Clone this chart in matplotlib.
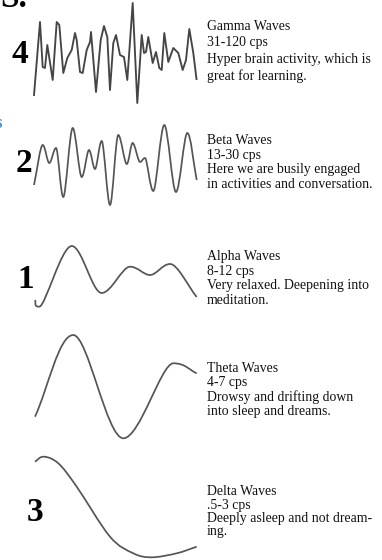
import numpy as np
import matplotlib.pyplot as plt
from matplotlib.path import Path
from matplotlib.patches import PathPatch

# ================================
# WAVE DATA (pixel coords)
# ================================
gamma_x = [34, 40, 42.7, 45, 47.3, 52.7, 56.7, 59.3, 63.3, 67.3, 71.7, 75, 76.7, 80, 82.7,
           86.7, 90, 91, 96, 100.7, 104, 107.3, 110, 113.3, 116, 120, 124, 127.3, 132.7,
           137.3, 141.7, 144, 146, 148.3, 152.7, 156, 159.3, 161.7, 164.3, 168.3, 173.3,
           178.3, 182.7, 186, 189.3, 193.3, 196.5]
gamma_y = [95, 22, 67, 68, 45, 80, 22, 25, 73, 58, 50, 33, 40, 72, 73,
           50, 42, 32, 92, 40, 26, 37, 90, 43, 35, 55, 57, 80, 3,
           103, 35, 53, 52, 37, 63, 52, 68, 70, 33, 62, 48,
           53, 70, 60, 29, 53, 79]

beta_x = [34, 42.7, 49.3, 56, 63.3, 72.7, 81.7, 89, 95, 101.7, 110, 118.3, 126.7,
          132.7, 140, 145, 153.3, 164.3, 176, 187.3, 196.7]
beta_y = [185, 145, 163, 148, 197, 128, 177, 150, 169, 141, 205, 135, 164,
          143, 162, 158, 191, 125, 192, 133, 180]

alpha_x = [35, 39.3, 71.7, 101.7, 130, 150, 170, 196.7]
alpha_y = [300, 306.7, 246, 293, 266.7, 275, 264, 297]

theta_x = [35, 73.3, 123.3, 173.3, 196.7]
theta_y = [416.7, 335, 438.3, 363.3, 373.3]

delta_x = [35, 43.3, 58.3, 76.7, 110, 133.3, 151.7, 176.7, 196.7]
delta_y = [461.7, 456.7, 463.3, 486.7, 536.7, 553.3, 557.3, 553.3, 546.7]

labels = ["Gamma Waves\n31-120 cps\nHyper brain activity, which is\ngreat for learning.",
          "Beta Waves\n13-30 cps\nHere we are busily engaged\nin activities and conversation.",
          "Alpha Waves\n8-12 cps\nVery relaxed. Deepening into\nmeditation.",
          "Theta Waves\n4-7 cps\nDrowsy and drifting down\ninto sleep and dreams.",
          "Delta Waves\n.5-3 cps\nDeeply asleep and not dream-\ning."]
numbers = ["4", "2", "1", "", "3"]


def smooth_path(xs, ys):
    # bezier through the points, flat tangent at peaks/troughs
    p = np.column_stack([xs, ys]).astype(float)
    n = len(p)
    t = np.zeros_like(p)
    for i in range(n):
        a = p[max(i - 1, 0)]
        b = p[min(i + 1, n - 1)]
        t[i] = (b - a) / (2 if 0 < i < n - 1 else 1)
        if 0 < i < n - 1 and (p[i, 1] - a[1]) * (p[i, 1] - b[1]) > 0:
            t[i, 1] = 0
    verts = [p[0]]
    codes = [Path.MOVETO]
    for i in range(n - 1):
        verts += [p[i] + t[i] / 3, p[i + 1] - t[i + 1] / 3, p[i + 1]]
        codes += [Path.CURVE4] * 3
    return Path(verts, codes)


fig = plt.figure(figsize=(3.82, 5.6), dpi=100)
ax = fig.add_axes([0, 0, 1, 1])
ax.set_xlim(0, 382)
ax.set_ylim(560, 0)
ax.axis("off")

wave_col = "#555555"
ax.plot(gamma_x, gamma_y, color="#454545", lw=1.35, solid_joinstyle="round")
for xs, ys in [(beta_x, beta_y), (alpha_x, alpha_y), (theta_x, theta_y), (delta_x, delta_y)]:
    ax.add_patch(PathPatch(smooth_path(xs, ys), fill=False, edgecolor=wave_col, lw=1.25))

# ================================
# TEXT
# ================================
serif = ["Liberation Serif", "DejaVu Serif"]
text_top = [20, 134, 250, 362, 485]
spacing = [1.34, 1.15, 1.15, 1.12, 1.05]
for lab, y, ls in zip(labels, text_top, spacing):
    ax.text(207, y, lab, family=serif, fontsize=9.9, va="top", ha="left",
            linespacing=ls, color="#111111")

num_pos = [(12, 63), (16, 172), (17, 288), (0, 0), (27, 521)]
for num, (x, y) in zip(numbers, num_pos):
    if num:
        ax.text(x, y, num, family=serif, fontsize=24, fontweight="bold",
                va="baseline", ha="left", color="black")

# cropped bits of the page edge
ax.text(0, 7, "S.", family=serif, fontsize=24, fontweight="bold", va="baseline", color="black")
ax.text(-6, 128, "s", family=serif, fontsize=14, fontweight="bold", va="baseline", color="#4f8fd0")

fig.savefig("out.png", dpi=100)
